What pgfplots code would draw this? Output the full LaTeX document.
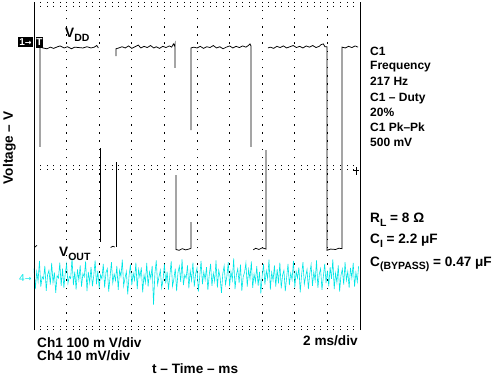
\documentclass[border=0pt]{standalone}
\usepackage{pgfplots}
\usepackage{pgfplotstable}
\pgfplotsset{compat=1.18}
\usepackage{fontspec}
\setmainfont{Liberation Sans}
\newfontfamily\dejavu{DejaVu Sans}
\definecolor{scopecyan}{RGB}{0,230,230}
\newcommand\sub[1]{\raisebox{-0.28em}{\fontsize{10.5}{10.5}\selectfont #1}}
\newcommand\fa{\fontsize{12}{14}\selectfont\bfseries}
\newcommand\fb{\fontsize{13.6}{15}\selectfont\bfseries}
\pgfplotstableread{
y
-2.50
-3.00
-2.57
-2.81
-2.31
-2.94
-2.70
-2.75
-2.43
-3.04
-2.65
-2.54
-2.89
-2.36
-2.84
-2.59
-3.09
-2.67
-2.73
-2.35
-2.92
-2.50
-2.97
-2.61
-2.39
-2.86
-2.69
-2.74
-2.24
-2.90
-2.57
-3.01
-2.52
-2.78
-2.42
-2.94
-2.62
-2.70
-2.32
-3.05
-2.58
-2.84
-2.46
-2.93
-2.67
-2.30
-2.88
-2.55
-2.98
-2.65
-2.75
-2.38
-2.96
-2.59
-2.50
-3.06
-2.70
-2.34
-2.85
-2.63
-2.79
-2.43
-3.02
-2.54
-2.69
-2.28
-2.92
-2.73
-2.57
-3.13
-2.66
-2.40
-2.90
-2.61
-2.78
-2.35
-3.00
-2.52
-2.71
-2.47
-3.08
-2.65
-2.84
-2.36
-2.94
-2.58
-2.74
-2.43
-3.38
-2.62
-2.30
-2.89
-2.70
-2.54
-2.97
-2.77
-2.39
-2.86
-2.57
-3.01
-2.67
-2.32
-2.93
-2.75
-2.50
-3.05
-2.59
-2.44
-2.82
-2.27
-2.90
-2.65
-2.73
-2.42
-2.98
-2.55
-2.79
-2.35
-2.94
-2.63
-2.48
-3.06
-2.70
-2.31
-2.88
-2.58
-2.77
-2.46
-3.02
-2.66
-2.38
-2.92
-2.61
-2.81
-2.30
-2.96
-2.54
-2.71
-3.09
-2.62
-2.43
-2.89
-2.69
-2.34
-2.93
-2.57
-2.78
-2.25
-3.00
-2.65
-2.50
-2.85
-2.40
-3.04
-2.70
-2.59
-2.36
-2.94
-2.52
-2.75
-2.32
-2.97
-2.63
-2.82
-2.44
-2.92
-2.58
-3.11
-2.67
-2.39
-2.89
-2.55
-2.74
-2.28
-3.01
-2.59
-2.79
-2.42
-2.94
-2.51
-2.86
-2.35
-2.98
-2.66
-2.54
-3.05
-2.71
-2.38
-2.90
-2.61
-2.77
-2.31
-2.96
-2.57
-2.73
-2.47
-3.08
-2.65
-2.34
-2.88
-2.69
-2.52
-3.00
-2.62
-2.40
-2.92
-2.58
-2.79
-2.30
-2.97
-2.63
-2.50
-3.02
-2.70
-2.38
-2.85
-2.55
-2.93
-2.46
-2.75
-2.27
-3.00
-2.61
-2.84
-2.42
-3.06
-2.66
-2.51
-2.89
-2.34
-2.78
-2.57
-2.97
-2.48
-2.73
-2.36
-2.94
-2.59
-2.82
-2.44
}\voutdata
\begin{document}
\begin{tikzpicture}[x=1pt,y=1pt]
\useasboundingbox (0,0) rectangle (495,375);
\begin{axis}[
  at={(34pt,45pt)}, anchor=south west,
  width=326pt, height=327pt, scale only axis,
  xmin=0, xmax=20, ymin=-4, ymax=4,
  axis line style={draw=none},
  xtick={2,4,...,18}, ytick=\empty,
  xticklabels={}, major tick length=0pt,
  xmajorgrids,
  major grid style={black, line width=0.9pt, dash pattern=on 1.5pt off 6.675pt},
  clip=false,
]
% V_OUT (Ch4, 10 mV/div), one sample every 1/12 ms
\addplot[scopecyan, line width=0.6pt] table[x expr=\coordindex/12, y=y] {\voutdata};
% V_DD (Ch1, 100 mV/div), drawn in the pieces that the scope shows
\addplot[black, line width=0.75pt] coordinates {(0.06,-1.97) (0.18,-1.93)};
\addplot[black, line width=0.75pt] coordinates {
(0.37,0.48) (0.37,2.93) (0.55,2.90) (0.8,2.88) (1.0,2.92) (1.2,2.89) (1.45,2.93)
(1.6,2.95) (1.85,2.90) (2.05,2.93) (2.3,2.88) (2.5,2.92) (2.75,2.91) (3.0,2.90)
(3.25,2.93) (3.5,2.90) (3.7,2.92) (3.85,2.96) (3.95,2.90)};
\addplot[black, line width=0.75pt] coordinates {(4.05,0.45) (4.05,-1.84)};
\addplot[black, line width=0.75pt] coordinates {(4.70,-1.98) (4.85,-1.95) (4.95,-1.97)};
\addplot[black, line width=0.75pt] coordinates {(5.03,-1.96) (5.03,0.11)};
\addplot[black, line width=0.75pt] coordinates {
(5.03,2.70) (5.03,2.88) (5.2,2.90) (5.4,2.93) (5.6,2.90) (5.8,2.95) (6.0,2.89)
(6.2,2.93) (6.4,2.97) (6.55,2.90) (6.75,2.94) (6.95,2.91) (7.15,2.96) (7.35,2.90)
(7.5,2.93) (7.7,2.89) (7.9,2.94) (8.1,2.91) (8.3,2.95) (8.45,2.92) (8.55,3.00)
(8.62,2.95) (8.65,3.00) (8.65,2.41)};
\addplot[black, line width=0.75pt] coordinates {
(8.71,-0.21) (8.71,-2.03) (8.9,-2.05) (9.1,-2.01) (9.3,-2.04) (9.5,-2.02)
(9.63,-2.00) (9.63,-1.36)};
\addplot[black, line width=0.75pt] coordinates {
(9.63,0.89) (9.63,2.90) (9.8,2.92) (10.0,2.90) (10.2,2.94) (10.4,2.89) (10.6,2.93)
(10.8,2.91) (11.0,2.96) (11.2,2.90) (11.4,2.93) (11.6,2.88) (11.8,2.92) (12.0,2.95)
(12.2,2.90) (12.4,2.94) (12.6,2.91) (12.8,2.95) (13.0,2.92) (13.15,2.96) (13.25,3.00)
(13.31,2.95) (13.31,0.48)};
\addplot[black, line width=0.75pt] coordinates {
(13.45,-2.04) (13.6,-2.00) (13.8,-2.03) (14.0,-1.99) (14.23,-2.02) (14.23,0.40)};
\addplot[black, line width=0.75pt] coordinates {
(14.35,2.90) (14.5,2.92) (14.7,2.89) (14.9,2.94) (15.1,2.91) (15.3,2.95) (15.5,2.90)
(15.7,2.93) (15.9,2.96) (16.1,2.91) (16.3,2.94) (16.5,2.90) (16.7,2.95) (16.9,2.92)
(17.1,2.96) (17.3,2.91) (17.5,2.94) (17.6,2.98) (17.75,3.00) (17.85,2.93)
(17.98,2.93) (17.98,-2.05) (18.2,-2.02) (18.5,-2.03) (18.7,-2.00) (18.90,-2.01)
(18.90,2.92) (19.1,2.90) (19.3,2.94) (19.5,2.91) (19.7,2.95) (19.88,2.92)};
\end{axis}
% frame: left and right edges
\draw[black, line width=1pt] (34,45) -- (34,373);
\draw[black, line width=1pt] (360,45) -- (360,373);
% graticule ticks: centre line, top and bottom edges
\foreach \i in {1,...,49}{
  \draw[black, line width=0.9pt, dash pattern=on 1.4pt off 2.2pt] ({34+6.52*\i},205) -- ({34+6.52*\i},212);
  \draw[black, line width=0.9pt, dash pattern=on 1.4pt off 2.2pt] ({34+6.52*\i},373) -- ({34+6.52*\i},367);
  \draw[black, line width=0.9pt, dash pattern=on 1.4pt off 2.2pt] ({34+6.52*\i},45) -- ({34+6.52*\i},49);
}
% channel and trigger markers
\node[fill=black, text=white, inner sep=0pt, minimum width=15pt, minimum height=10pt, font=\fontsize{10}{10}\selectfont\bfseries] at (25.5,332.5) {1{\dejavu\fontsize{8}{8}\selectfont →}};
\node[fill=black, text=white, inner sep=0pt, minimum width=7.5pt, minimum height=11pt, font=\fontsize{10}{10}\selectfont\bfseries] at (39.5,332.5) {T};
\node[text=scopecyan, anchor=west, inner sep=0pt, font=\fontsize{10}{10}\selectfont] at (19,97) {4{\dejavu\fontsize{8}{8}\selectfont →}};
\draw[black, line width=1pt] (353,204) -- (359,204);
\draw[black, line width=1pt] (356,200) -- (356,208);
% trace labels
\node[anchor=base west, inner sep=0pt, font=\fb] at (65,337) {V\sub{DD}};
\node[anchor=base west, inner sep=0pt, font=\fb] at (59,118) {V\sub{OUT}};
% measurements
\node[anchor=base west, inner sep=0pt, font=\fa] at (370,319) {C1};
\node[anchor=base west, inner sep=0pt, font=\fa] at (370,305) {Frequency};
\node[anchor=base west, inner sep=0pt, font=\fa] at (370,289) {217 Hz};
\node[anchor=base west, inner sep=0pt, font=\fa] at (370,273) {C1 – Duty};
\node[anchor=base west, inner sep=0pt, font=\fa] at (370,258) {20\%};
\node[anchor=base west, inner sep=0pt, font=\fa] at (370,243) {C1 Pk–Pk};
\node[anchor=base west, inner sep=0pt, font=\fa] at (370,228) {500 mV};
% conditions
\node[anchor=base west, inner sep=0pt, font=\fb] at (370,152) {R\sub{L} = 8 Ω};
\node[anchor=base west, inner sep=0pt, font=\fb] at (370,131) {C\sub{I} = 2.2 μF};
\node[anchor=base west, inner sep=0pt, font=\fb] at (370,109) {C\sub{(BYPASS)} = 0.47 μF};
% scales and axis titles
\node[anchor=base west, inner sep=0pt, font=\fb] at (37,28) {Ch1 100 m V/div};
\node[anchor=base west, inner sep=0pt, font=\fb] at (37,15) {Ch4 10 mV/div};
\node[anchor=base west, inner sep=0pt, font=\fb] at (303,30) {2 ms/div};
\node[anchor=base west, inner sep=0pt, font=\fb] at (152,2) {t – Time – ms};
\node[rotate=90, inner sep=0pt, font=\fb] at (9.5,227) {Voltage – V};
\end{tikzpicture}
\end{document}
